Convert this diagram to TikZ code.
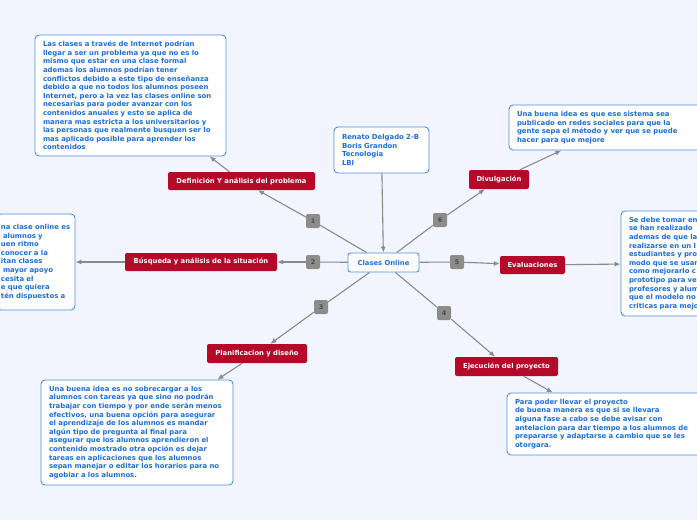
\documentclass[tikz,border=0pt]{standalone}
\usepackage{fontspec}
\setmainfont{DejaVu Sans}
\usetikzlibrary{arrows.meta}
\definecolor{bgc}{RGB}{242,245,253}
\definecolor{redc}{HTML}{B5092A}
\definecolor{txtblue}{HTML}{1C6FD6}
\definecolor{boxblue}{HTML}{4A90E2}
\definecolor{linec}{HTML}{8A8A8A}
\definecolor{badgec}{HTML}{8C8C8C}
\tikzset{
  tbox/.style={draw=boxblue, fill=white, rounded corners=4pt, line width=0.9pt,
    text=txtblue, align=left, inner xsep=8pt, inner ysep=0pt,
    font=\fontsize{6.9}{8.6}\selectfont\bfseries},
  redbox/.style={fill=redc, rounded corners=2pt, text=white, inner sep=0pt,
    minimum height=18pt, font=\fontsize{6.8}{7}\selectfont\bfseries},
  central/.style={draw=boxblue, fill=white, rounded corners=2.5pt, line width=0.9pt,
    text=txtblue, minimum width=71pt, minimum height=19pt, inner sep=0pt,
    font=\fontsize{6.8}{7}\selectfont\bfseries},
  badge/.style={fill=badgec, rounded corners=2pt, minimum size=14pt, inner sep=0pt,
    text=black!70, font=\fontsize{6.4}{7}\selectfont\bfseries},
  conn/.style={draw=linec, line width=1.1pt},
  arr/.style={conn, -{Latex[length=6pt,width=5pt]}}
}
\begin{document}
\begin{tikzpicture}[x=1pt,y=-1pt]
\useasboundingbox (0,0) rectangle (697,520);
\fill[bgc] (0,0) rectangle (697,520);
\clip (0,0) rectangle (697,520);

% central
\node[central] (c) at (383.5,262.5) {Clases Online};
% info box
\node[tbox, text width=79pt, minimum height=46pt] (ren) at (381.5,150) {Renato Delgado 2-B\\Boris Grandon\\Tecnologia\\LBI};

% red nodes
\node[redbox, minimum width=147pt] (def) at (241.5,181) {Definición Y análisis del problema};
\node[redbox, minimum width=152pt] (bus) at (201,262) {Búsqueda y análisis de la situación};
\node[redbox, minimum width=100pt, minimum height=19pt] (pla) at (257,353.5) {Planificacion y diseño};
\node[redbox, minimum width=103pt, minimum height=19pt] (eje) at (506.5,366.5) {Ejecución del proyecto};
\node[redbox, minimum width=65pt] (eva) at (532.5,265) {Evaluaciones};
\node[redbox, minimum width=60pt, minimum height=19pt] (div) at (499,179.5) {Divulgación};

% badges
\node[badge] (b1) at (313,221) {1};
\node[badge] (b2) at (313,262) {2};
\node[badge] (b3) at (321,307) {3};
\node[badge] (b4) at (444,313) {4};
\node[badge] (b5) at (457,262) {5};
\node[badge] (b6) at (440,220) {6};

% text boxes
\node[tbox, text width=175pt, minimum height=121pt] (t1) at (130.5,95.5) {Las clases a través de Internet podrían\\llegar a ser un problema ya que no es lo\\mismo que estar en una clase formal\\ademas los alumnos podrían tener\\conflictos debido a este tipo de enseñanza\\debido a que no todos los alumnos poseen\\Internet, pero a la vez las clases online son\\necesarias para poder avanzar con los\\contenidos anuales y esto se aplica de\\manera mas estricta a los universitarios y\\las personas que realmente busquen ser lo\\mas aplicado posible para aprender los\\contenidos};

\node[tbox, text width=70pt, inner xsep=4pt, minimum height=96pt] (t2) at (36,262) {na clase online es\\\hspace*{2pt}alumnos y\\uen ritmo\\conocer a la\\itan clases\\\hspace*{2pt}mayor apoyo\\cesita el\\e que quiera\\tén dispuestos a};

\node[tbox, text width=176pt, minimum height=105pt] (t3) at (137,432.5) {Una buena idea es no sobrecargar a los\\alumnos con tareas ya que sino no podrán\\trabajar con tiempo y por ende serán menos\\efectivos, una buena opción para asegurar\\el aprendizaje de los alumnos es mandar\\algún tipo de pregunta al final para\\asegurar que los alumnos aprendieron el\\contenido mostrado otra opción es dejar\\tareas en aplicaciones que los alumnos\\sepan manejar o editar los horarios para no\\agobiar a los alumnos.};

\node[tbox, text width=187pt, minimum height=62pt] (t4) at (608.5,424) {Para poder llevar el proyecto\\de buena manera es que si se llevara\\alguna fase a cabo se debe avisar con\\antelacion para dar tiempo a los alumnos de\\prepararse y adaptarse a cambio que se les\\otorgara.};

\node[tbox, text width=90pt, minimum height=105pt] (t5) at (674,263.5) {Se debe tomar en\\se han realizado\\ademas de que la\\realizarse en un l\\estudiantes y pro\\modo que se usar\\como mejorarlo c\\prototipo para ve\\profesores y alum\\que el modelo no\\criticas para mejo};

\node[tbox, text width=187pt, minimum height=45pt] (t6) at (610.5,127.5) {Una buena idea es que ese sistema sea\\publicado en redes sociales para que la\\gente sepa el método y ver que se puede\\hacer para que mejore};

% connectors
\draw[arr] (ren) -- (c);
\draw[conn] (c) -- (b1); \draw[arr] (b1) -- (def);
\draw[conn] (c) -- (b2); \draw[arr] (b2) -- (bus);
\draw[conn] (c) -- (b3); \draw[arr] (b3) -- (pla);
\draw[conn] (c) -- (b4); \draw[arr] (b4) -- (eje);
\draw[conn] (c) -- (b5); \draw[arr] (b5) -- (eva);
\draw[conn] (c) -- (b6); \draw[arr] (b6) -- (div);
\draw[arr] (def) -- (t1);
\draw[arr] (bus) -- (t2);
\draw[arr] (pla) -- (t3);
\draw[arr] (eje) -- (t4);
\draw[arr] (eva) -- (t5);
\draw[arr] (div) -- (t6);
\end{tikzpicture}
\end{document}
